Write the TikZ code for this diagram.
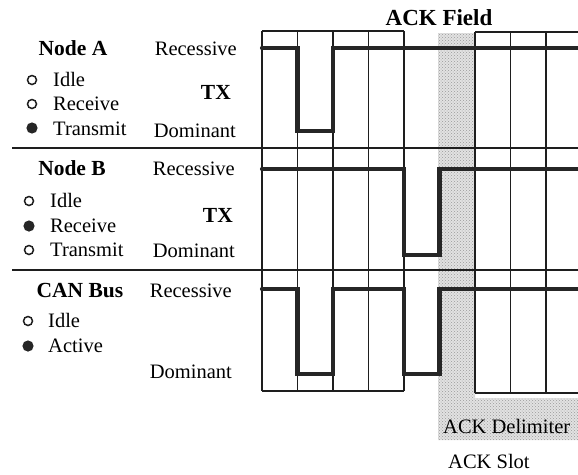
\documentclass[tikz,border=0pt]{standalone}
\usepackage{fontspec}
\setmainfont{Liberation Serif}
\usetikzlibrary{patterns}
\definecolor{tinte}{HTML}{262626}
\definecolor{linie}{HTML}{1E1E1E}
\definecolor{sprenkel}{HTML}{E2E2E2}
\tikzset{
  gitter/.style={linie,line width=1.3pt},
  pegel/.style={tinte,line width=4.2pt,line cap=round,line join=miter},
  feld/.style={fill=sprenkel,draw=none},
  txt/.style={inner sep=0pt,font=\fontsize{20.5}{24}\selectfont},
  titel/.style={txt,font=\fontsize{21.5}{24}\selectfont\bfseries},
  frei/.style={linie,line width=1.5pt,fill=white},
  aktiv/.style={fill=tinte},
}
\begin{document}
\begin{tikzpicture}[x=1pt,y=-1pt]
  \useasboundingbox (0,0) rectangle (578,474);
  \fill[white] (0,0) rectangle (578,474);
  \fill[feld] (438,33)--(475,33)--(475,398)--(578,398)--(578,440)--(438,440)--cycle;
  \fill[pattern=crosshatch dots,pattern color=gray!80] (438,33)--(475,33)--(475,398)--(578,398)--(578,440)--(438,440)--cycle;
  \foreach \x in {262,297.5,333,368.5,404} \draw[gitter] (\x,31)--(\x,391);
  \foreach \x in {475,510.5,546} \draw[gitter] (\x,32)--(\x,393);
  \draw[gitter] (262,31)--(404,31);
  \draw[gitter] (262,391)--(404,391);
  \draw[gitter] (475,32)--(578,32);
  \draw[gitter] (475,393)--(578,393);
  \draw[gitter] (12,148)--(578,148);
  \draw[gitter] (12,270)--(578,270);
  \draw[pegel] (262,48) -| (297.5,131) -| (333,48) -- (578,48);
  \draw[pegel] (262,169) -| (404,255) -| (439.5,169) -- (578,169);
  \draw[pegel] (262,289) -| (297.5,374) -| (333,289) -| (404,374) -| (439.5,289) -- (578,289);
  \node[titel,anchor=base] (ackfeld) at (439,25) {\fontsize{23}{26}\selectfont ACK Field};
  \node[titel,anchor=base] (knotenA) at (73,55) {Node A};
  \node[txt,anchor=base east] (rezA) at (237,55) {Recessive};
  \node[titel,anchor=base east] (txA) at (231,99) {TX};
  \node[txt,anchor=base east] (domA) at (236,137) {Dominant};
  \node[txt,anchor=base west] (idleA) at (53,86) {Idle};
  \node[txt,anchor=base west] (rxA) at (53,110) {Receive};
  \node[txt,anchor=base west] (sendA) at (53,135) {Transmit};
  \draw[frei] (32,80) circle (4.5);
  \draw[frei] (32,104) circle (4.5);
  \fill[aktiv] (32,128) circle (5.6);
  \node[titel,anchor=base] (knotenB) at (72,175) {Node B};
  \node[txt,anchor=base east] (rezB) at (235,175) {Recessive};
  \node[titel,anchor=base east] (txB) at (233,222) {TX};
  \node[txt,anchor=base east] (domB) at (235,257) {Dominant};
  \node[txt,anchor=base west] (idleB) at (50,207) {Idle};
  \node[txt,anchor=base west] (rxB) at (50,232) {Receive};
  \node[txt,anchor=base west] (sendB) at (50,256) {Transmit};
  \draw[frei] (29,201) circle (4.5);
  \fill[aktiv] (29,226) circle (5.6);
  \draw[frei] (29,250) circle (4.5);
  \node[titel,anchor=base] (bus) at (80,297) {CAN Bus};
  \node[txt,anchor=base east] (rezBus) at (232,297) {Recessive};
  \node[txt,anchor=base east] (domBus) at (232,378) {Dominant};
  \node[txt,anchor=base west] (idleBus) at (48,327) {Idle};
  \node[txt,anchor=base west] (aktBus) at (48,352) {Active};
  \draw[frei] (28,321) circle (4.5);
  \fill[aktiv] (28,346) circle (5.6);
  \node[txt,anchor=base west] (delim) at (443,433) {ACK Delimiter};
  \node[txt,anchor=base west] (slot) at (448,468) {ACK Slot};
\end{tikzpicture}
\end{document}
